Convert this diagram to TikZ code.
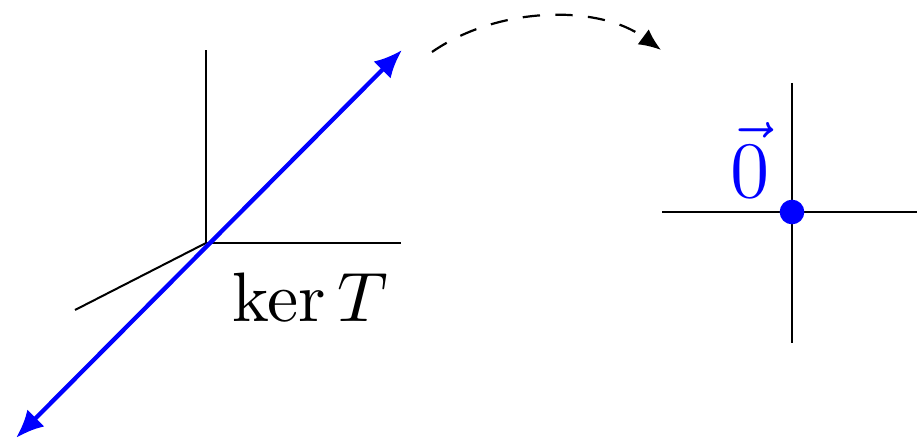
\documentclass[tikz,border=0pt]{standalone}
\usetikzlibrary{arrows.meta}
\begin{document}
\begin{tikzpicture}[x=0.15pt,y=-0.15pt,
  axis/.style={black,line width=0.3pt},
  kerline/.style={blue,line width=0.65pt,{Latex[length=4.2pt,width=3.6pt]}-{Latex[length=4.2pt,width=3.6pt]}},
  maparrow/.style={black,line width=0.33pt,dash pattern=on 2.6pt off 2.3pt,-{Latex[length=3.3pt,width=2.8pt]}}]
\useasboundingbox (0,0) rectangle (917,438);
% left axes
\coordinate (o) at (206,243);
\coordinate (ytop) at (206,50);
\coordinate (xend) at (401,243);
\coordinate (zend) at (75,310);
\draw[axis] (o) -- (ytop);
\draw[axis] (o) -- (xend);
\draw[axis] (o) -- (zend);
\coordinate (kA) at (16,438);
\coordinate (kB) at (402,50);
\draw[kerline] (kA) -- (kB);
\node[scale=1.05] (ker) at (310,297) {$\ker T$};
% right axes
\coordinate (p) at (792,212);
\coordinate (pl) at (662,212);
\coordinate (pr) at (917,212);
\coordinate (pt) at (792,83);
\coordinate (pb) at (792,343);
\draw[axis] (pl) -- (pr);
\draw[axis] (pt) -- (pb);
\fill[blue] (p) circle (1.85pt);
\node[blue] (zero) at (750,160) {\large$\vec{0}$};
% map arrow
\coordinate (s) at (432,52);
\coordinate (t) at (661,50);
\draw[maparrow] (s) .. controls (500,5) and (600,5) .. (t);
\end{tikzpicture}
\end{document}
